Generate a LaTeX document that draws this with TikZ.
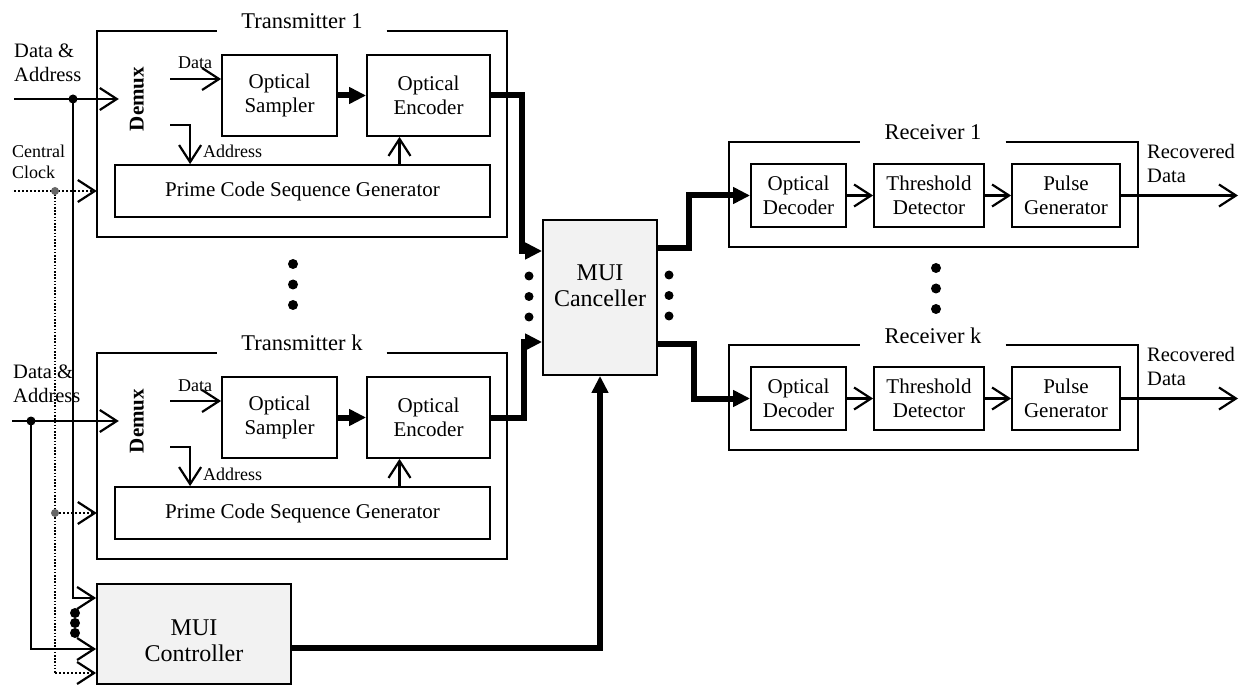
\documentclass[tikz,border=0pt]{standalone}
\usepackage{fontspec}
\setmainfont{Liberation Serif}
\usetikzlibrary{arrows.meta,calc}
\definecolor{muifill}{HTML}{F2F2F2}
\definecolor{clockdot}{HTML}{666666}
\tikzset{
  blk/.style={draw, line width=1.8pt, align=center, inner sep=0pt,
    font=\fontsize{21}{24}\selectfont},
  grpbox/.style={inner sep=0pt},
  grp/.style={line width=1.8pt},
  grptitle/.style={inner sep=0pt, inner xsep=24pt, anchor=base,
    font=\fontsize{22.5}{26}\selectfont},
  muibox/.style={draw, line width=1.8pt, fill=muifill, inner sep=0pt},
  muitext/.style={align=center, inner sep=0pt, font=\fontsize{24}{26.5}\selectfont},
  demux/.style={rotate=90, inner sep=0pt, minimum height=36pt,
    font=\bfseries\fontsize{21}{24}\selectfont},
  lbl/.style={align=left, inner sep=0pt, anchor=west, font=\fontsize{20.5}{24}\selectfont},
  clklbl/.style={align=left, inner sep=0pt, anchor=west, font=\fontsize{18}{21}\selectfont},
  small/.style={inner sep=0pt, font=\fontsize{18}{21}\selectfont},
  arr/.style={line width=2.2pt, -{Straight Barb[length=17pt,width=22pt]}},
  thk/.style={line width=6pt, -{Triangle[length=17pt,width=16pt]}},
  clk/.style={line width=2.4pt, dash pattern=on 2pt off 2pt,
    -{Straight Barb[length=17pt,width=22pt,line width=2.2pt]}},
  vdot/.style={line width=1.6pt, dash pattern=on 1.6pt off 1.6pt},
}
\begin{document}
\begin{tikzpicture}[x=1pt, y=-1pt]
\fill[white] (0,0) rectangle (1254,687);
\useasboundingbox (0,0) rectangle (1254,687);

% ---- transmitters ----
\foreach \n/\oy in {1/0,k/322}{
  \node[grpbox, minimum width=410pt, minimum height=206pt] (t\n) at (302,{134+\oy}) {};
  \node[grptitle] (tt\n) at (302,{29+\oy}) {Transmitter \n};
  \draw[grp] (tt\n.east |- t\n.north) -- (t\n.north east) -- (t\n.south east)
     -- (t\n.south west) -- (t\n.north west) -- (tt\n.west |- t\n.north);
  \node[blk, minimum width=115pt, minimum height=81pt] (s\n) at (279.5,{95.5+\oy}) {Optical\\Sampler};
  \node[blk, minimum width=123pt, minimum height=81pt] (e\n) at (428.5,{95.5+\oy}) {Optical\\Encoder};
  \node[blk, minimum width=375pt, minimum height=52pt] (p\n) at (302.5,{191+\oy}) {Prime Code Sequence Generator};
  \node[demux] (d\n) at (137,{99+\oy}) {Demux};
  \coordinate (dd\n) at (170,{79+\oy});
  \coordinate (da\n) at (170,{125+\oy});
  \coordinate (pa\n) at ([xshift=76pt]p\n.north west);
  \coordinate (pe\n) at ([xshift=-29pt]e\n.south);
  \draw[arr] (dd\n) -- (dd\n -| s\n.west);
  \node[small, anchor=base] (ld\n) at (195,{69+\oy}) {Data};
  \draw[arr] (da\n) -| (pa\n);
  \node[small, anchor=base west] (la\n) at (203,{158+\oy}) {Address};
  \draw[thk] (s\n.east) -- (e\n.west);
  \draw[arr] (pe\n |- p\n.north) -- (pe\n);
}

\fill (293,264) circle (5pt);
\fill (293,284.5) circle (5pt);
\fill (293,305) circle (5pt);

% ---- MUI canceller and controller ----
\node[muibox, minimum width=114pt, minimum height=155pt] (c) at (600,297.5) {};
\node[muitext] (ct) at (600,286) {MUI\\Canceller};
\node[muibox, minimum width=194pt, minimum height=100pt] (m) at (194,634) {};
\node[muitext] (mt) at (194,641) {MUI\\Controller};

% ---- inputs and shared lines on the left ----
\node[lbl] (da1lbl) at (14,63) {Data \&\\Address};
\node[lbl] (dak) at (13,384) {Data \&\\Address};
\node[clklbl] (cc) at (12,162) {Central\\Clock};

\coordinate (in1) at (14,99);
\coordinate (ink) at (12,421);
\coordinate (j1) at (73,99);
\coordinate (jk) at (31,421);
\coordinate (clk1) at (14,191);
\coordinate (g1) at (55,191);
\coordinate (gk) at (55,513);
\coordinate (gb) at (55,673);

\draw[vdot] (g1) -- (gb);
\draw[clk] (clk1) -- (t1.west |- p1.center);
\draw[clk] (gk) -- (tk.west |- pk.center);
\draw[clk] (gb) -- (gb -| m.west);
\draw[arr] (in1) -- (d1.north);
\draw[arr] (ink) -- (dk.north);
\draw[arr] (j1) |- ([yshift=36pt]m.west);
\draw[arr] (jk) |- ([yshift=-15pt]m.west);
\fill (j1) circle (4.5pt);
\fill (jk) circle (4.5pt);
\fill[clockdot] (g1) circle (4pt);
\fill[clockdot] (gk) circle (4pt);
\fill (75,613) circle (5pt);
\fill (75,623) circle (5pt);
\fill (75,633) circle (5pt);

% ---- optical paths into and out of the canceller ----
\draw[thk] (e1.east) -- ++(31,0) |- ([yshift=46.5pt]c.west);
\draw[thk] (ek.east) -- ++(33,0) |- ([yshift=-44.5pt]c.west);
\draw[thk] ([yshift=-14pt]m.east) -| (c.south);

\fill (529,276) circle (4.5pt);
\fill (529,296.5) circle (4.5pt);
\fill (529,317) circle (4.5pt);
\fill (669,275) circle (4.5pt);
\fill (669,295.5) circle (4.5pt);
\fill (669,316) circle (4.5pt);

% ---- receivers ----
\foreach \n/\oy in {1/0,k/203}{
  \node[grpbox, minimum width=409pt, minimum height=105pt] (r\n) at (933.5,{194.5+\oy}) {};
  \node[grptitle] (rt\n) at (933,{140+\oy}) {Receiver \n};
  \draw[grp] (rt\n.east |- r\n.north) -- (r\n.north east) -- (r\n.south east)
     -- (r\n.south west) -- (r\n.north west) -- (rt\n.west |- r\n.north);
  \node[blk, minimum width=95pt, minimum height=63pt] (od\n) at (798.5,{195.5+\oy}) {Optical\\Decoder};
  \node[blk, minimum width=110pt, minimum height=63pt] (td\n) at (929,{195.5+\oy}) {Threshold\\Detector};
  \node[blk, minimum width=108pt, minimum height=63pt] (pg\n) at (1066,{195.5+\oy}) {Pulse\\Generator};
  \draw[arr] (od\n) -- (td\n);
  \draw[arr] (td\n) -- (pg\n);
  \coordinate (ro\n) at (1238,{195.5+\oy});
  \draw[arr] (pg\n) -- (ro\n);
  \node[lbl] (rl\n) at (1147,{163+\oy}) {Recovered\\Data};
}

\draw[thk] ([yshift=49.5pt]c.east) -- ++(31,0) |- (od1.west);
\draw[thk] ([yshift=-46.5pt]c.east) -- ++(36,0) |- (odk.west);

\fill (936,268) circle (5pt);
\fill (936,288.5) circle (5pt);
\fill (936,309) circle (5pt);
\end{tikzpicture}
\end{document}
